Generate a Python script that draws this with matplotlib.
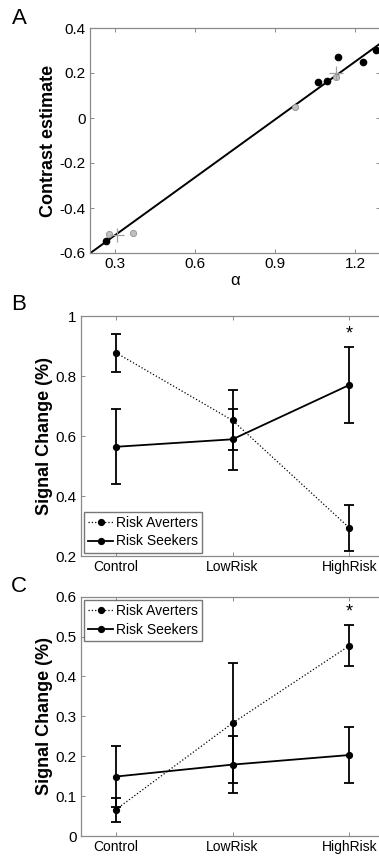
import numpy as np
import matplotlib.pyplot as plt

plt.rcParams["font.family"] = ["Liberation Sans", "DejaVu Sans"]

# panel A: contrast estimate vs alpha
alpha_black = [0.265, 1.061, 1.095, 1.136, 1.229, 1.279]
contrast_black = [-0.547, 0.159, 0.163, 0.271, 0.249, 0.302]
alpha_gray = [0.278, 0.366, 0.974, 1.129]
contrast_gray = [-0.516, -0.510, 0.048, 0.184]
alpha_mean = [0.306, 1.129]
contrast_mean = [-0.520, 0.201]
fit_slope = 0.857
fit_intercept = -0.777

# panels B and C: signal change per condition
conditions = ["Control", "LowRisk", "HighRisk"]
b_averters = [0.878, 0.652, 0.294]
b_averters_err = [0.063, 0.100, 0.077]
b_seekers = [0.564, 0.589, 0.770]
b_seekers_err = [0.125, 0.102, 0.127]
c_averters = [0.066, 0.283, 0.477]
c_averters_err = [0.030, 0.150, 0.052]
c_seekers = [0.149, 0.179, 0.203]
c_seekers_err = [0.077, 0.072, 0.071]

SPINE = "#8a8a8a"
W, H = 379, 857


def px_axes(fig, left, top, right, bottom):
    return fig.add_axes([left / W, 1 - bottom / H, (right - left) / W, (bottom - top) / H])


def style_axes(ax, xsize=10):
    for s in ax.spines.values():
        s.set_color(SPINE)
        s.set_linewidth(0.9)
    ax.tick_params(direction="in", length=3, width=0.7, color=SPINE,
                   top=True, right=True, pad=3)
    ax.tick_params(axis="y", labelsize=11)
    ax.tick_params(axis="x", labelsize=xsize)


def line_panel(ax, averters, averters_err, seekers, seekers_err, yticks, ylabels, loc):
    x = np.arange(1, len(conditions) + 1)
    h1 = ax.errorbar(x, averters, yerr=averters_err, color="black", ls=":", lw=0.9,
                     marker="o", ms=4.2, capsize=3.5, elinewidth=1.3, capthick=1.3,
                     label="Risk Averters")
    h2 = ax.errorbar(x, seekers, yerr=seekers_err, color="black", ls="-", lw=1.3,
                     marker="o", ms=4.2, capsize=3.5, elinewidth=1.3, capthick=1.3,
                     label="Risk Seekers")
    ax.set_xlim(0.7, 3.3)
    ax.set_xticks(x)
    ax.set_xticklabels(conditions)
    ax.set_yticks(yticks)
    ax.set_yticklabels(ylabels)
    ax.set_ylim(yticks[0], yticks[-1])
    ax.set_ylabel("Signal Change (%)", fontsize=13, fontweight="bold", labelpad=2)
    top = max(averters[2] + averters_err[2], seekers[2] + seekers_err[2])
    ax.annotate("*", (x[2], top), xytext=(0, 3), textcoords="offset points",
                ha="center", va="bottom", fontsize=13)
    leg = ax.legend(handles=[h1[0], h2[0]], labels=["Risk Averters", "Risk Seekers"],
                    loc=loc, fontsize=10, frameon=True, fancybox=False,
                    borderpad=0.3, handlelength=1.8, handletextpad=0.2,
                    labelspacing=0.3, borderaxespad=0.25)
    leg.get_frame().set_edgecolor("#555555")
    leg.get_frame().set_linewidth(1.0)
    style_axes(ax)


def main():
    fig = plt.figure(figsize=(W / 100, H / 100), dpi=100)

    # A
    ax1 = px_axes(fig, 90, 28, 380.5, 253)
    xs = np.array([0.205, 1.30])
    ax1.plot(xs, fit_slope * xs + fit_intercept, color="black", lw=1.4)
    ax1.plot(alpha_gray, contrast_gray, "o", ms=4.5, mfc="#c0c0c0", mec="#909090", mew=0.6)
    ax1.plot(alpha_mean, contrast_mean, "+", ms=10, color="#a0a0a0", mew=0.9)
    ax1.plot(alpha_black, contrast_black, "o", ms=4.5, color="black")
    ax1.set_xlim(0.205, 1.294)
    ax1.set_ylim(-0.6, 0.4)
    ax1.set_xticks([0.3, 0.6, 0.9, 1.2])
    ax1.set_xticklabels(["0.3", "0.6", "0.9", "1.2"])
    ax1.set_yticks([-0.6, -0.4, -0.2, 0, 0.2, 0.4])
    ax1.set_yticklabels(["-0.6", "-0.4", "-0.2", "0", "0.2", "0.4"])
    ax1.set_xlabel("α", fontsize=12, labelpad=1)
    ax1.set_ylabel("Contrast estimate", fontsize=13, fontweight="bold", labelpad=2)
    style_axes(ax1, xsize=11)

    # B
    ax2 = px_axes(fig, 80.7, 316, 384.3, 556)
    line_panel(ax2, b_averters, b_averters_err, b_seekers, b_seekers_err,
               [0.2, 0.4, 0.6, 0.8, 1.0], ["0.2", "0.4", "0.6", "0.8", "1"], "lower left")

    # C
    ax3 = px_axes(fig, 80.7, 596.7, 384.3, 836)
    line_panel(ax3, c_averters, c_averters_err, c_seekers, c_seekers_err,
               [0, 0.1, 0.2, 0.3, 0.4, 0.5, 0.6],
               ["0", "0.1", "0.2", "0.3", "0.4", "0.5", "0.6"], "upper left")

    for letter, y in [("A", 18), ("B", 305), ("C", 586)]:
        fig.text(19 / W, 1 - y / H, letter, fontsize=16, ha="center", va="center")

    fig.savefig("out.png", dpi=100)


if __name__ == "__main__":
    main()
